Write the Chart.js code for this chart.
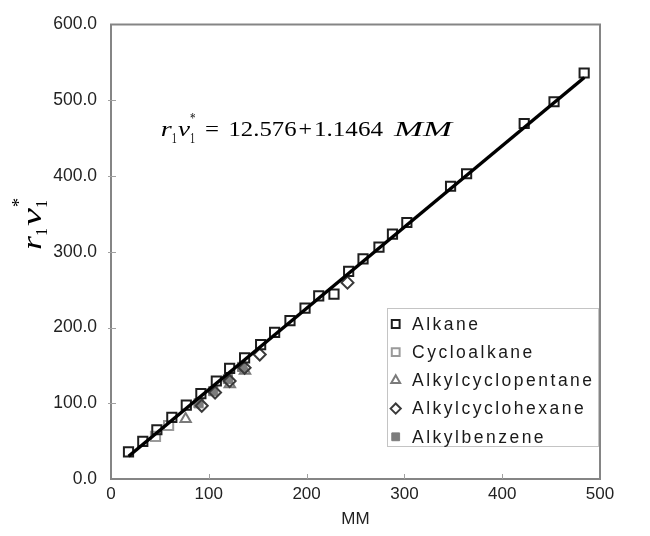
<!DOCTYPE html>
<html><head><meta charset="utf-8">
<script src="https://cdn.jsdelivr.net/npm/chart.js@4"></script>
<style>html,body{margin:0;padding:0;background:#fff}</style>
</head><body>
<canvas id="c" width="650" height="536" style="display:block;width:650px;height:536px"></canvas>
<script>
// ---- data ----
const seriesNames = ['Alkane','Cycloalkane','Alkylcyclopentane','Alkylcyclohexane','Alkylbenzene'];
const alkaneMM = [17.9,32.5,46.9,62.2,77.0,91.9,107.7,121.3,136.6,153.0,167.3,183.0,198.4,212.4,228.0,243.0,257.7,274.0,287.8,302.5,347.2,363.6,422.5,453.0,483.8];
const alkaneR  = [35.7,49.7,65.0,81.4,97.6,112.8,129.4,146.0,159.9,177.4,193.5,209.0,225.7,241.8,244.0,274.0,290.6,306.0,323.3,338.6,386.5,403.0,469.3,498.0,536.0];
const cycloMM = [45.5,58.9];
const cycloR  = [56.2,70.6];
const cpentMM = [76.3,121.5,137.0];
const cpentR  = [79.3,125.0,143.0];
const chexMM = [92.8,106.4,121.3,136.6,152.1,241.8];
const chexR  = [96.7,114.1,129.4,146.8,164.3,259.2];
const benzMM = [89.5,104.5,119.5,134.0];
const benzR  = [100.0,116.0,132.0,148.0];
const fitMM = [18,484];
const fitR  = [30,530];
const xTicks = [0,100,200,300,400,500];
const yTicks = [0,100,200,300,400,500,600];
const xTitle = 'MM';

const pts = (xs, ys) => xs.map((x,i)=>({x, y: ys[i]}));

const styles = [
  {pointStyle:'rect', radius:6.5, borderColor:'#1e1e1e', bg:'rgba(0,0,0,0)', bw:2},
  {pointStyle:'rect', radius:6.5, borderColor:'#9a9a9a', bg:'rgba(0,0,0,0)', bw:2},
  {pointStyle:'triangle', radius:6, borderColor:'#7a7a7a', bg:'rgba(0,0,0,0)', bw:2},
  {pointStyle:'rectRot', radius:6, borderColor:'#3a3a3a', bg:'rgba(0,0,0,0)', bw:2},
  {pointStyle:'rect', radius:6.5, borderColor:'#7c7c7c', bg:'#7c7c7c', bw:1}
];
const seriesData = [pts(alkaneMM,alkaneR), pts(cycloMM,cycloR), pts(cpentMM,cpentR), pts(chexMM,chexR), pts(benzMM,benzR)];
const orders = [1,5,4,2,3];

const datasets = seriesData.map((d,i)=>({
  label: seriesNames[i], data: d, showLine:false, order: orders[i],
  pointStyle: styles[i].pointStyle, pointRadius: styles[i].radius, pointHoverRadius: styles[i].radius,
  pointBorderColor: styles[i].borderColor, pointBackgroundColor: styles[i].bg, pointBorderWidth: styles[i].bw
}));
datasets.push({label:'fit', data: pts(fitMM,fitR), showLine:true, order:0, pointRadius:0,
  borderColor:'#000', borderWidth:3.5, fill:false});

const SANS = "'Liberation Sans', Arial, sans-serif";
const SERIF = "'Liberation Serif', 'Times New Roman', serif";

const decor = {
  id:'decor',
  afterDraw(chart){
    const ctx = chart.ctx, a = chart.chartArea;
    const xs = chart.scales.x, ys = chart.scales.y;
    ctx.save();
    // frame
    ctx.strokeStyle = '#858585'; ctx.lineWidth = 2;
    ctx.strokeRect(a.left, a.top, a.right-a.left, a.bottom-a.top);
    // inside ticks
    ctx.strokeStyle = '#a0a0a0'; ctx.lineWidth = 1;
    xTicks.slice(1,-1).forEach(v=>{const p=Math.round(xs.getPixelForValue(v))+0.5; ctx.beginPath(); ctx.moveTo(p,a.bottom); ctx.lineTo(p,a.bottom-5); ctx.stroke();});
    yTicks.slice(1,-1).forEach(v=>{const p=Math.round(ys.getPixelForValue(v))+0.5; ctx.beginPath(); ctx.moveTo(a.left-3,p); ctx.lineTo(a.left+5,p); ctx.stroke();});

    // legend box
    ctx.fillStyle = '#fff';
    ctx.fillRect(387,308,212,139);
    ctx.strokeStyle = '#c4c4c4'; ctx.lineWidth = 1;
    ctx.strokeRect(387.5,308.5,211,138);
    ctx.font = '17.5px ' + SANS;
    ctx.textBaseline = 'middle'; ctx.textAlign = 'left';
    try { ctx.letterSpacing = '2.5px'; } catch(e){}
    seriesNames.forEach((n,i)=>{
      const y = 324 + i*28.2;
      const s = styles[i];
      ctx.fillStyle = s.bg; ctx.strokeStyle = s.borderColor; ctx.lineWidth = s.bw;
      Chart.helpers.drawPoint(ctx, {pointStyle:s.pointStyle, radius: s.radius*0.85, rotation:0, borderWidth:s.bw}, 395.7, y);
      ctx.fillStyle = '#1a1a1a';
      ctx.fillText(n, 412, y+1);
    });
    try { ctx.letterSpacing = '0px'; } catch(e){}

    // regression equation
    const parts = [
      {t:'r', it:true, x:160.7, w:11, b:135.7, s:22},
      {t:'1', x:171.7, w:5, b:142.5, s:14},
      {t:'v', it:true, x:178, w:12, b:135.7, s:22},
      {t:'1', x:190, w:5, b:142.5, s:14},
      {t:'*', x:190, w:5.5, b:123, s:15},
      {t:'=', x:205, w:14, b:135.7, s:22},
      {t:'12.576', x:228.5, w:68, b:135.7, s:22},
      {t:'+', x:298.5, w:13.5, b:135.7, s:22},
      {t:'1.1464', x:314, w:69, b:135.7, s:22},
      {t:'MM', it:true, x:394, w:58, b:135.7, s:22}
    ];
    ctx.fillStyle = '#000'; ctx.textBaseline = 'alphabetic'; ctx.textAlign = 'left';
    parts.forEach(p=>{
      ctx.font = (p.it?'italic ':'') + p.s + 'px ' + SERIF;
      const m = ctx.measureText(p.t).width;
      ctx.save(); ctx.translate(p.x, p.b); ctx.scale(p.w/m, 1); ctx.fillText(p.t, 0, 0); ctx.restore();
    });

    // y-axis title  r1 v1*
    ctx.save();
    ctx.translate(41, 250);
    ctx.rotate(-Math.PI/2);
    const yparts = [
      {t:'r', it:true, x:0, w:14, b:0, s:28},
      {t:'1', x:14, w:8, b:6, s:17},
      {t:'v', it:true, x:24, w:18, b:0, s:28},
      {t:'1', x:42, w:8, b:6, s:17},
      {t:'*', x:43, w:9, b:-16, s:19}
    ];
    yparts.forEach(p=>{
      ctx.font = (p.it?'italic ':'') + p.s + 'px ' + SERIF;
      const m = ctx.measureText(p.t).width;
      ctx.save(); ctx.translate(p.x, p.b); ctx.scale(p.w/m, 1); ctx.fillText(p.t, 0, 0); ctx.restore();
    });
    ctx.restore();
    ctx.restore();
  }
};

new Chart(document.getElementById('c'), {
  type:'scatter',
  data:{datasets},
  options:{
    responsive:false, animation:false, devicePixelRatio:1,
    layout:{padding:{left:0,right:50,top:20,bottom:0}},
    plugins:{legend:{display:false}, tooltip:{enabled:false}},
    scales:{
      x:{type:'linear', min:0, max:500,
        afterFit(s){ s.height = 57; },
        afterBuildTicks(s){ s.ticks = xTicks.map(v=>({value:v})); },
        grid:{display:false, drawTicks:false}, border:{display:false},
        ticks:{padding:5, color:'#222', font:{family:SANS, size:17}, maxRotation:0, callback:v=>String(v)},
        title:{display:true, text:xTitle, color:'#222', font:{family:SANS, size:17}, padding:{top:0,bottom:6}}
      },
      y:{type:'linear', min:0, max:600,
        afterFit(s){ s.width = 111; },
        afterBuildTicks(s){ s.ticks = yTicks.map(v=>({value:v})); },
        grid:{display:false, drawTicks:false}, border:{display:false},
        ticks:{padding:14, color:'#222', font:{family:SANS, size:17.5}, callback:v=>Number(v).toFixed(1)}
      }
    }
  },
  plugins:[decor]
});
</script>
</body></html>
